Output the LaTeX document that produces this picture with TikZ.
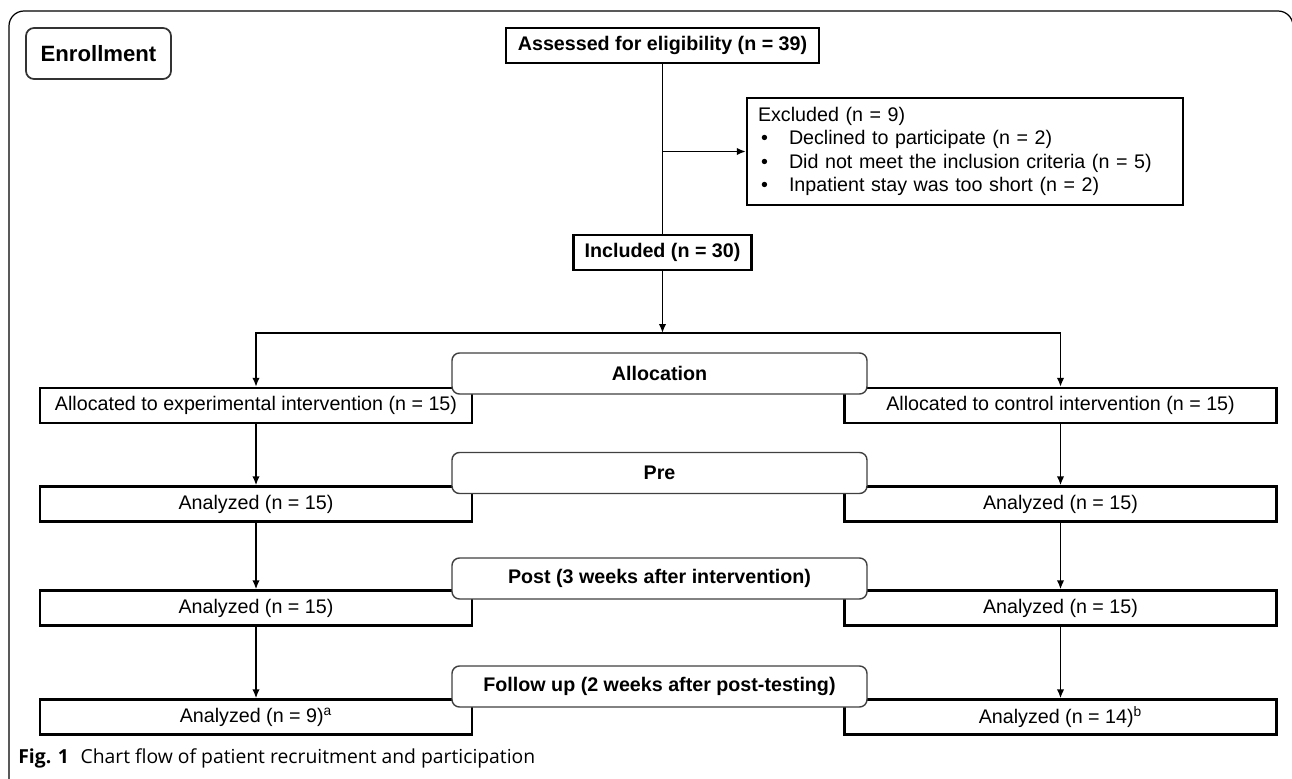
\documentclass[tikz,border=0pt]{standalone}
\usepackage{fontspec}
\setmainfont{Liberation Sans}
\newfontfamily\captionfont{Open Sans}
\usetikzlibrary{positioning, arrows.meta, calc}
\tikzset{
        flow-box/.style={
            rectangle, draw, line width=1.3pt, fill=white, minimum height=0.70cm, inner sep=0pt,
            font=\fontsize{11.2}{13.4}\selectfont
        },
        bold-box/.style={
            flow-box, font=\fontsize{11.2}{13.4}\selectfont\bfseries
        },
        side-box/.style={
            flow-box, minimum width=8.64cm
        },
        phase-box/.style={
            rectangle, rounded corners=0.15cm, draw=black!75, line width=0.8pt, fill=white,
            minimum width=8.3cm, minimum height=0.82cm, font=\fontsize{11.2}{13.4}\selectfont\bfseries
        },
        flow-arrow/.style={
            line width=1.1pt, -{Latex[length=0.18cm,width=0.15cm]}
        },
}

\begin{document}
\begin{tikzpicture}

        \useasboundingbox (0,0) rectangle (25.84,-15.56);
        \clip (0,0) rectangle (25.84,-15.56);

        %OUTER FRAME (runs off the page at the right and bottom)
        \draw [line width=0.7pt, rounded corners=0.3cm] (0.18,-16) -- (0.18,-0.22) -- (25.86,-0.22) -- (25.86,-16);

        %DRAW NODES (top part, relative to the ASSESS box)
        \node [flow-box, rounded corners=0.16cm, draw=black!80, line width=1pt, minimum width=2.9cm, minimum height=1.02cm,
               font=\fontsize{12.6}{15}\selectfont\bfseries]          (ENROLL)  at (1.97,-1.07)                {Enrollment};
        \node [bold-box, minimum width=6.26cm]                       (ASSESS)  at (13.25,-0.91)               {Assessed for eligibility (n = 39)};
        \node [flow-box, text width=8.28cm, minimum height=2.14cm, inner xsep=0.22cm, align=left]
                                                                     (EXCL)    at ($(ASSESS)+(6.05,-2.12)$)   {Excluded (n = 9)\\
            \makebox[0.62cm][l]{\hspace{0.06cm}\textbullet}Declined to participate (n = 2)\\
            \makebox[0.62cm][l]{\hspace{0.06cm}\textbullet}Did not meet the inclusion criteria (n = 5)\\
            \makebox[0.62cm][l]{\hspace{0.06cm}\textbullet}Inpatient stay was too short (n = 2)};
        \node [bold-box, minimum width=3.56cm]                       (INCL)    at ($(ASSESS)+(0,-4.14)$)      {Included (n = 30)};
        \coordinate                                                  (SPLIT)   at ($(ASSESS)+(0,-5.75)$);

        %DRAW NODES (two arms)
        \node [side-box]   (ALLOC-EXP) at (5.12,-8.11)                 {Allocated to experimental intervention (n = 15)};
        \node [side-box]   (ALLOC-CON) at (21.21,-8.11)                {Allocated to control intervention (n = 15)};
        \node [side-box]   (PRE-EXP)   at ($(ALLOC-EXP)+(0,-1.97)$)    {Analyzed (n = 15)};
        \node [side-box]   (PRE-CON)   at ($(ALLOC-CON)+(0,-1.97)$)    {Analyzed (n = 15)};
        \node [side-box]   (POST-EXP)  at ($(PRE-EXP)+(0,-2.08)$)      {Analyzed (n = 15)};
        \node [side-box]   (POST-CON)  at ($(PRE-CON)+(0,-2.08)$)      {Analyzed (n = 15)};
        \node [side-box]   (FOLL-EXP)  at ($(POST-EXP)+(0,-2.18)$)     {Analyzed (n = 9)\textsuperscript{a}};
        \node [side-box]   (FOLL-CON)  at ($(POST-CON)+(0,-2.18)$)     {Analyzed (n = 14)\textsuperscript{b}};

        %DRAW NODES (phase labels, on top of the arm boxes)
        \node [phase-box]  (ALLOCATION) at (13.19,-7.47)               {Allocation};
        \node [phase-box]  (PRE)        at (13.19,-9.46)               {Pre};
        \node [phase-box]  (POST)       at (13.19,-11.57)              {Post (3 weeks after intervention)};
        \node [phase-box]  (FOLLOW)     at (13.19,-13.73)              {Follow up (2 weeks after post-testing)};

        %CAPTION
        \node [anchor=west, inner sep=0pt, font=\captionfont\fontsize{11}{13}\selectfont]
                           (CAPTION)    at (0.36,-15.16)               {\textbf{Fig. 1}\hspace{0.6em}Chart flow of patient recruitment and participation};

        % CONNECT ENROLLMENT
        \draw [line width=1.1pt] (ASSESS) -- (INCL);
        \draw [flow-arrow] (ASSESS.south |- EXCL.west) -- (EXCL.west);
        \draw [flow-arrow] (INCL) -- (SPLIT);
        \draw [flow-arrow] (SPLIT) -| (ALLOC-EXP);
        \draw [flow-arrow] (SPLIT) -| (ALLOC-CON);

        % CONNECT ARMS
        \draw [flow-arrow] (ALLOC-EXP) -- (PRE-EXP);
        \draw [flow-arrow] (PRE-EXP)   -- (POST-EXP);
        \draw [flow-arrow] (POST-EXP)  -- (FOLL-EXP);
        \draw [flow-arrow] (ALLOC-CON) -- (PRE-CON);
        \draw [flow-arrow] (PRE-CON)   -- (POST-CON);
        \draw [flow-arrow] (POST-CON)  -- (FOLL-CON);

\end{tikzpicture}
\end{document}
